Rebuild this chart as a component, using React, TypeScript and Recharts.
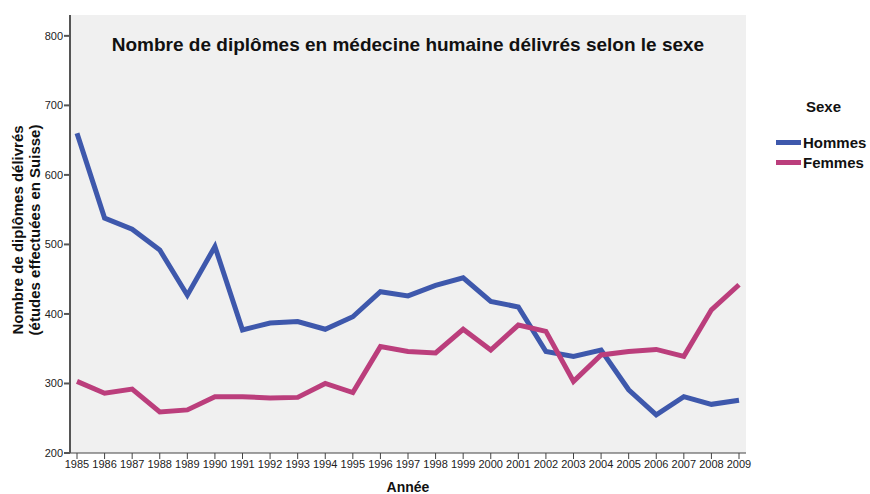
import React from 'react';
import { LineChart, Line, XAxis, YAxis, CartesianGrid, Label } from 'recharts';

const years = [1985, 1986, 1987, 1988, 1989, 1990, 1991, 1992, 1993, 1994, 1995, 1996, 1997, 1998, 1999, 2000, 2001, 2002, 2003, 2004, 2005, 2006, 2007, 2008, 2009];
const hommes = [660, 538, 522, 492, 427, 497, 377, 387, 389, 378, 396, 432, 426, 441, 452, 418, 410, 346, 339, 348, 291, 255, 281, 270, 276];
const femmes = [303, 286, 292, 259, 262, 281, 281, 279, 280, 300, 287, 353, 346, 344, 378, 348, 384, 375, 303, 341, 346, 349, 339, 406, 442];
const yTicks = [200, 300, 400, 500, 600, 700, 800];

const data = years.map((y, i) => ({ year: y, Hommes: hommes[i], Femmes: femmes[i] }));

const FONT = '"Liberation Sans", Arial, sans-serif';
const BLUE = '#3e58ac';
const PINK = '#bb3e7c';

const YLabel = ({ viewBox }: any) => {
  const cx = 27;
  const cy = viewBox.y + viewBox.height / 2 - 4;
  return (
    <text transform={`rotate(-90, ${cx}, ${cy})`} x={cx} y={cy} textAnchor="middle"
      style={{ fontFamily: FONT, fontSize: 15, fontWeight: 'bold', fill: '#111' }}>
      <tspan x={cx} dy={-4}>Nombre de diplômes délivrés</tspan>
      <tspan x={cx} dy={17}>(études effectuées en Suisse)</tspan>
    </text>
  );
};

export default function App() {
  return (
    <div style={{ position: 'fixed', left: 0, top: 0, width: 870, height: 494, background: '#fff', fontFamily: FONT }}>
      <LineChart width={870} height={494} data={data} margin={{ top: 15, right: 124, bottom: 11, left: 0 }}>
        <CartesianGrid fill="#f0f0f0" horizontal={false} vertical={false} />
        <XAxis
          dataKey="year"
          type="number"
          domain={[1985, 2009]}
          ticks={years}
          padding={{ left: 7, right: 7 }}
          height={30}
          interval={0}
          stroke="#444"
          tickSize={6}
          tickMargin={1}
          tick={{ fontSize: 11, fill: '#222', fontFamily: FONT }}
        >
          <Label value="Année" position="insideBottom" offset={-9}
            style={{ fontFamily: FONT, fontSize: 14, fontWeight: 'bold', fill: '#111' }} />
        </XAxis>
        <XAxis xAxisId="top" orientation="top" dataKey="year" type="number" domain={[1985, 2009]}
          height={0} tick={false} tickLine={false} stroke="#555" />
        <YAxis
          domain={[200, 830]}
          ticks={yTicks}
          width={70}
          stroke="#555"
          strokeWidth={2}
          tickSize={6}
          tickMargin={1}
          tick={{ fontSize: 11, fill: '#222', fontFamily: FONT }}
        >
          <Label content={<YLabel />} />
        </YAxis>
        <YAxis yAxisId="right" orientation="right" domain={[200, 830]} width={0}
          tick={false} tickLine={false} stroke="#777" />
        <Line type="linear" dataKey="Hommes" stroke={BLUE} strokeWidth={5} dot={false} isAnimationActive={false} />
        <Line type="linear" dataKey="Femmes" stroke={PINK} strokeWidth={5} dot={false} isAnimationActive={false} />
      </LineChart>
      <div style={{ position: 'absolute', left: 70, width: 676, top: 34, textAlign: 'center', fontSize: 19, fontWeight: 'bold', color: '#111' }}>
        Nombre de diplômes en médecine humaine délivrés selon le sexe
      </div>
      <div style={{ position: 'absolute', left: 776, top: 98, fontSize: 15, color: '#111' }}>
        <div style={{ fontWeight: 'bold', marginLeft: 30, marginBottom: 17 }}>Sexe</div>
        {[['Hommes', BLUE], ['Femmes', PINK]].map(([name, c]) => (
          <div key={name} style={{ display: 'flex', alignItems: 'center', height: 20, fontWeight: 'bold' }}>
            <span style={{ display: 'inline-block', width: 25, height: 5, background: c, marginRight: 2 }} />
            <span>{name}</span>
          </div>
        ))}
      </div>
    </div>
  );
}
